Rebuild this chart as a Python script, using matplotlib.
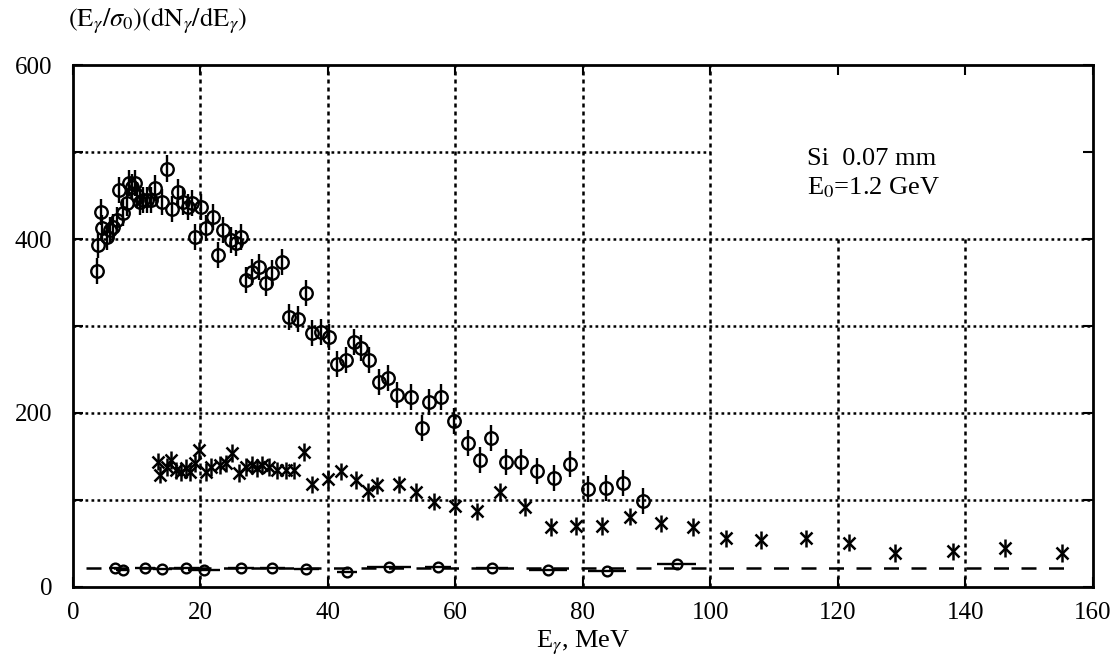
import matplotlib.pyplot as plt

plt.rcParams['font.family'] = ['Liberation Serif', 'DejaVu Serif']
plt.rcParams['mathtext.fontset'] = 'stix'

# crystal data (open circles)
e_circ = [3.7, 3.9, 4.4, 4.5, 5.3, 5.8, 6.3, 6.9, 7.3, 7.8, 8.4, 8.8, 9.2, 9.7,
          10.0, 10.5, 11.0, 11.6, 12.3, 12.8, 14.0, 14.7, 15.6, 16.5, 17.3, 18.0,
          18.7, 19.1, 20.1, 20.9, 21.9, 22.8, 23.6, 24.8, 25.6, 26.4, 27.2, 28.1,
          29.2, 30.3, 31.3, 32.8, 33.9, 35.3, 36.6, 37.5, 38.9, 40.2, 41.4, 42.8,
          44.1, 45.2, 46.4, 48.0, 49.5, 50.8, 53.0, 54.7, 55.9, 57.8, 59.8, 62.0,
          63.9, 65.6, 68.0, 70.3, 72.8, 75.5, 78.0, 80.8, 83.6, 86.3, 89.4]
y_circ = [363, 393, 431, 413, 402, 410, 414, 422, 456, 430, 441, 464, 460, 464,
          451, 443, 445, 445, 445, 459, 443, 481, 434, 454, 443, 437,
          441, 402, 437, 413, 425, 382, 410, 399, 395, 402, 353, 362,
          368, 349, 361, 374, 310, 308, 338, 292, 293, 287, 256, 261,
          282, 275, 261, 236, 240, 221, 218, 183, 213, 218, 191, 166,
          146, 171, 144, 144, 133, 125, 141, 113, 114, 120, 99]

# amorphous data (crosses)
e_cross = [13.3, 13.6, 14.7, 15.4, 16.2, 17.0, 17.8, 18.3, 19.1, 19.8, 20.9, 21.7,
           23.0, 24.0, 25.0, 26.1, 27.2, 28.1, 28.9, 29.7, 30.8, 32.0, 33.4, 34.7,
           36.3, 37.5, 40.0, 42.1, 44.4, 46.3, 47.7, 51.1, 53.8, 56.6, 60.0, 63.4,
           67.0, 70.9, 75.0, 78.9, 83.0, 87.4, 92.2, 97.3, 102.5, 108.0, 115.0,
           121.7, 128.9, 138.1, 146.2, 155.2]
y_cross = [144, 129, 138, 146, 134, 132, 137, 132, 142, 157, 132, 138,
           140, 142, 154, 131, 138, 140, 137, 140, 138, 134, 134, 134,
           155, 118, 124, 133, 123, 110, 117, 118, 109, 98, 93, 87,
           109, 92, 69, 70, 70, 81, 73, 69, 56, 54, 56,
           51, 39, 41, 45, 39]

# background (small circles near the bottom)
e_bg = [6.6, 7.8, 11.3, 14.0, 17.8, 20.6, 26.4, 31.3, 36.6, 43.0, 49.6, 57.3,
        65.8, 74.5, 83.8, 94.7]
y_bg = [22, 20, 22, 21, 22, 20, 22, 22, 21, 17, 23, 23, 22, 19, 18, 27]
xerr_bg = [1, 1, 1.5, 1.5, 2, 2.5, 2, 2, 2, 1.5, 3.5, 2, 2.5, 3, 3, 3]

bg_level = 22
circ_err = 15
cross_err = 10

x_ticks = list(range(0, 161, 20))
y_ticks = list(range(0, 601, 100))

fig = plt.figure(figsize=(11.14, 6.62), dpi=100)
ax = fig.add_axes([0.0655, 0.1133, 0.9155, 0.7885])

# grid: the upper right corner (text area) is left clear
for gx in x_ticks[1:-1]:
    top = 600 if gx <= 100 else 400
    ax.plot([gx, gx], [0, top], color='black', lw=1.8,
            linestyle=(0, (1.6, 1.6)), zorder=1)
for gy in y_ticks[1:-1]:
    right = 100 if gy > 400 else 160
    ax.plot([0, right], [gy, gy], color='black', lw=1.8,
            linestyle=(0, (1.1, 1.3)), zorder=1)

ax.errorbar(e_circ, y_circ, yerr=circ_err, fmt='o', mfc='none', mec='black',
            ecolor='black', ms=9, mew=1.7, elinewidth=1.7, capsize=0)
ax.errorbar(e_cross, y_cross, yerr=cross_err, fmt='x', color='black',
            ms=9, mew=1.8, elinewidth=1.8, capsize=0)
ax.errorbar(e_bg, y_bg, xerr=xerr_bg, fmt='o', mfc='none', mec='black',
            ecolor='black', ms=7, mew=1.7, elinewidth=1.7, capsize=0)
ax.plot([2, 157], [bg_level, bg_level], color='black', lw=1.8,
        dashes=(6, 5))

ax.set_xlim(0, 160)
ax.set_ylim(0, 600)
ax.set_xticks(x_ticks)
ax.set_yticks(y_ticks)
ax.set_yticklabels(['0', '', '200', '', '400', '', '600'])
ax.tick_params(direction='in', length=7, width=1.5, labelsize=18,
               top=True, right=True)
ax.tick_params(axis='x', pad=11)
ax.tick_params(axis='y', pad=15)
for s in ax.spines.values():
    s.set_linewidth(2)

ax.set_xlabel(r'E$_\gamma$, MeV', fontsize=19, labelpad=3)
fig.text(0.061, 0.968, r'$(\mathrm{E}_\gamma/\sigma_0)(\mathrm{dN}_\gamma/\mathrm{dE}_\gamma)$',
         fontsize=19, ha='left', va='center')
ax.text(115.2, 492, 'Si  0.07 mm', fontsize=19, va='center')
ax.text(115.2, 459, r'E$_0$=1.2 GeV', fontsize=19, va='center')

fig.savefig('out.png', dpi=100)
